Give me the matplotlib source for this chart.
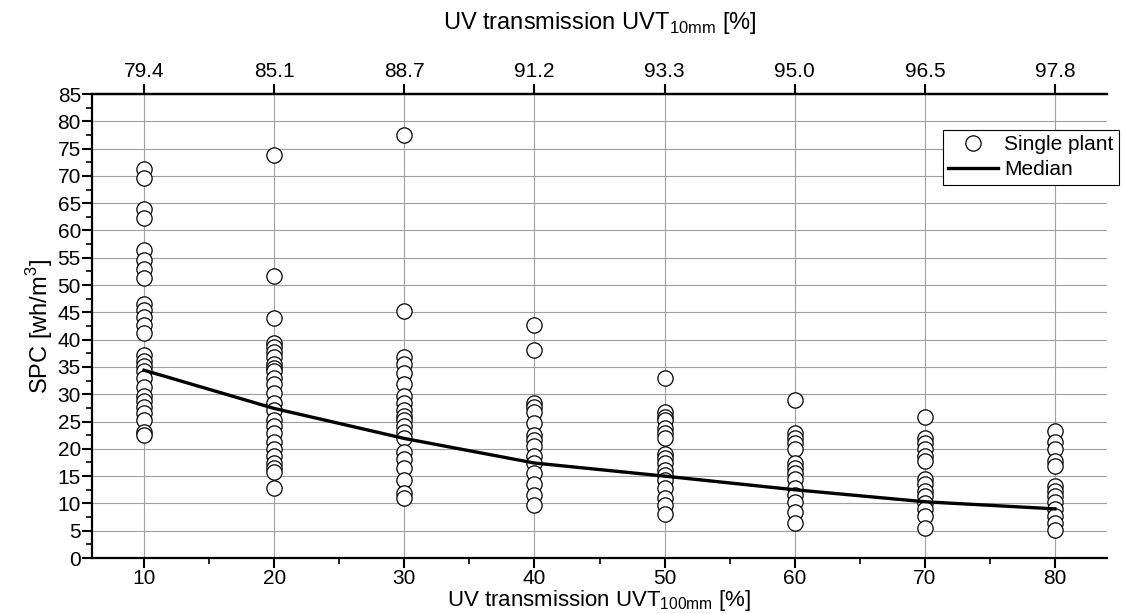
import matplotlib
matplotlib.use("Agg")
import matplotlib.pyplot as plt
from matplotlib.ticker import MultipleLocator
from matplotlib.lines import Line2D

plt.rcParams['font.family'] = ['Liberation Sans', 'DejaVu Sans']

uvt100 = [10, 20, 30, 40, 50, 60, 70, 80]
uvt10_labels = ["79.4", "85.1", "88.7", "91.2", "93.3", "95.0", "96.5", "97.8"]

spc_10 = [71.3, 69.7, 63.9, 62.3, 56.5, 54.5, 52.9, 51.3, 46.5, 45.5, 44.2, 42.6, 41.3,
          37.1, 36.1, 35.2, 34.2, 32.9, 31.3, 29.7, 28.7, 27.7, 26.5, 25.2, 23.0, 22.6]
spc_20 = [73.9, 51.6, 43.9, 39.4, 38.7, 37.7, 36.8, 35.5, 34.8, 34.2, 32.9, 31.9, 30.3,
          28.4, 27.1, 25.2, 24.2, 22.9, 21.3, 20.0, 18.7, 17.4, 16.5, 15.8, 12.9]
spc_30 = [77.4, 45.2, 36.8, 35.5, 33.9, 31.9, 29.7, 28.4, 27.1, 26.1, 25.2, 24.2, 23.0,
          21.9, 19.4, 18.1, 16.5, 14.2, 11.9, 11.0]
spc_40 = [42.6, 38.1, 28.4, 27.7, 26.8, 24.8, 22.6, 21.6, 20.6, 18.7, 17.4, 15.5, 13.5,
          11.6, 9.7]
spc_50 = [32.9, 26.8, 25.8, 25.2, 23.9, 22.9, 21.9, 19.0, 18.4, 17.4, 16.1, 15.2, 14.2,
          12.9, 11.0, 9.7, 8.1]
spc_60 = [29.0, 22.9, 21.9, 21.0, 20.0, 17.4, 16.5, 15.5, 14.5, 12.9, 11.6, 10.3, 8.4, 6.5]
spc_70 = [25.9, 21.9, 21.0, 20.0, 18.7, 17.7, 14.5, 13.5, 12.3, 11.3, 10.0, 9.0, 7.7, 5.5]
spc_80 = [23.2, 21.3, 20.0, 17.7, 16.8, 13.2, 12.3, 11.3, 10.3, 9.0, 7.7, 6.5, 5.2]
single_plants = [spc_10, spc_20, spc_30, spc_40, spc_50, spc_60, spc_70, spc_80]

median = [34.4, 27.4, 21.9, 17.4, 15.0, 12.5, 10.3, 9.0]

W, H = 1125, 614
fig = plt.figure(figsize=(W / 100, H / 100), dpi=100)
ax = fig.add_axes([92 / W, 1 - 558 / H, (1107 - 92) / W, (558 - 94) / H])

for xv, vals in zip(uvt100, single_plants):
    ax.plot([xv] * len(vals), vals, linestyle='none', marker='o', markersize=11,
            markerfacecolor='white', markeredgecolor='black', markeredgewidth=0.9, zorder=3)
ax.plot(uvt100, median, color='black', linewidth=2.4, zorder=4)

ax.set_xlim(6, 84)
ax.set_ylim(0, 85)
ax.xaxis.set_major_locator(MultipleLocator(10))
ax.xaxis.set_minor_locator(MultipleLocator(5))
ax.yaxis.set_major_locator(MultipleLocator(5))
ax.yaxis.set_minor_locator(MultipleLocator(2.5))
ax.grid(True, which='major', color='#a0a0a0', linewidth=0.8, zorder=0)
ax.set_axisbelow(True)
ax.tick_params(axis='both', which='major', direction='out', length=7, width=1.5,
               labelsize=15, pad=1)
ax.tick_params(axis='both', which='minor', direction='out', length=4, width=1.2)
for s in ['left', 'bottom', 'top']:
    ax.spines[s].set_linewidth(1.6)
ax.spines['right'].set_visible(False)

ax.set_xlabel("UV transmission UVT$_{\\mathregular{100mm}}$ [%]", fontsize=16, labelpad=0)
ax.set_ylabel("SPC [wh/m$^{\\mathregular{3}}$]", fontsize=17, labelpad=2)

top = ax.secondary_xaxis('top')
top.set_xticks(uvt100, uvt10_labels)
top.tick_params(direction='out', length=7, width=1.5, labelsize=15, pad=2)
top.spines['top'].set_linewidth(1.6)
top.set_xlabel("UV transmission UVT$_{\\mathregular{10mm}}$ [%]", fontsize=17, labelpad=24)

handles = [Line2D([], [], linestyle='none', marker='o', markersize=11, markerfacecolor='white',
                  markeredgecolor='black', markeredgewidth=0.9),
           Line2D([], [], color='black', linewidth=2.4)]
leg = fig.legend(handles, ["Single plant", "Median"], loc='upper left',
                 bbox_to_anchor=(943 / W, 1 - 130 / H), fontsize=15, frameon=True,
                 fancybox=False, edgecolor='black', framealpha=1, borderpad=0.25,
                 labelspacing=0.3, handlelength=2.4, handletextpad=0.3, borderaxespad=0)
leg.get_frame().set_linewidth(0.8)

fig.savefig("out.png", dpi=100)
